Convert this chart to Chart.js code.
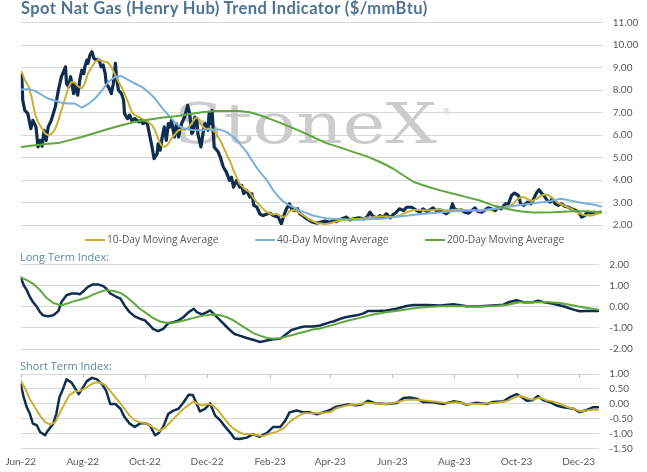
<!DOCTYPE html>
<html>
<head>
<meta charset="utf-8">
<script src="https://cdn.jsdelivr.net/npm/chart.js@4.4.1/dist/chart.umd.min.js"></script>
<style>
  html,body{margin:0;padding:0;background:#ffffff;}
  body{width:647px;height:472px;overflow:hidden;position:relative;font-family:Lato,"Open Sans",sans-serif;}
  canvas{position:absolute;left:0;}
  #c1{top:0;} #c2{top:244px;} #c3{top:358px;}
  #title{position:absolute;left:21px;top:-1px;font-weight:700;font-size:16.5px;letter-spacing:0.4px;line-height:19px;color:#4d7493;white-space:nowrap;}
  .sub{position:absolute;left:20px;font-family:"Open Sans",sans-serif;font-size:11px;line-height:13px;color:#5f87a8;white-space:nowrap;}
  .leg{position:absolute;top:233px;height:13px;font-family:"Open Sans",sans-serif;font-size:10.2px;line-height:13px;color:#595959;white-space:nowrap;}
  .sw{position:absolute;width:20px;height:0;border-top:2.5px solid;}
</style>
</head>
<body>
<canvas id="c1" width="647" height="241"></canvas>
<canvas id="c2" width="647" height="121"></canvas>
<canvas id="c3" width="647" height="114"></canvas>
<div id="title">Spot Nat Gas (Henry Hub) Trend Indicator ($/mmBtu)</div>
<div id="legend"></div>
<div class="sub" style="top:250px">Long Term Index:</div>
<div class="sub" style="top:359px">Short Term Index:</div>
<script>
// ---- x axis: days since 1 Jun 2022, ticks every two months ----
const TICK_DAYS   = [0, 61, 122, 183, 245, 304, 365, 426, 487, 548];
const TICK_LABELS = ['Jun-22','Aug-22','Oct-22','Dec-22','Feb-23','Apr-23','Jun-23','Aug-23','Oct-23','Dec-23'];

// ---- top panel: $/mmBtu, [day, value] ----
const SPOT = [[1,8.66],[2,7.55],[4,7.10],[7,6.95],[10,6.28],[12,6.65],[15,6.36],[17,5.47],[19,5.76],[21,5.50],[23,6.21],[25,5.76],[27,6.36],[30,6.65],[34,7.25],[37,7.99],[40,8.59],[44,9.03],[45,8.29],[47,8.14],[49,8.59],[52,7.84],[53,8.29],[56,7.77],[58,8.44],[60,8.88],[62,8.73],[63,9.03],[65,9.33],[66,9.18],[68,9.55],[70,9.70],[72,9.40],[75,9.33],[77,9.33],[79,9.03],[81,9.11],[83,8.73],[84,8.29],[87,8.07],[89,7.84],[91,8.29],[93,9.18],[94,8.59],[96,7.99],[99,7.84],[101,7.55],[102,6.95],[105,6.73],[107,6.88],[109,6.65],[112,6.73],[116,6.58],[118,6.65],[120,6.51],[124,6.58],[125,6.36],[127,5.91],[129,5.47],[131,4.95],[134,5.17],[135,5.61],[137,5.32],[139,5.91],[141,6.36],[143,5.76],[145,6.51],[147,6.36],[148,6.65],[151,5.91],[153,6.51],[155,5.91],[158,6.51],[161,6.80],[164,7.32],[166,6.95],[168,6.06],[170,6.21],[171,6.80],[173,6.65],[174,6.06],[177,5.47],[179,6.06],[181,6.51],[184,6.21],[185,6.95],[187,6.51],[188,7.10],[190,5.47],[194,5.24],[196,5.02],[199,4.58],[202,4.35],[205,3.98],[207,4.13],[209,3.68],[212,3.98],[215,3.68],[217,3.76],[219,3.39],[222,3.54],[225,3.24],[227,3.39],[229,2.87],[232,2.79],[235,2.49],[238,2.42],[242,2.49],[245,2.52],[248,2.42],[253,2.35],[256,2.05],[259,2.49],[261,2.72],[264,2.94],[266,2.72],[269,2.64],[272,2.72],[274,2.50],[278,2.38],[281,2.27],[284,2.20],[287,2.12],[291,2.08],[294,2.12],[299,2.17],[304,2.12],[307,2.20],[310,2.15],[315,2.27],[320,2.35],[323,2.23],[327,2.27],[332,2.32],[337,2.27],[340,2.35],[343,2.57],[346,2.38],[350,2.32],[353,2.42],[356,2.35],[359,2.50],[363,2.32],[366,2.47],[369,2.57],[372,2.72],[376,2.64],[379,2.79],[384,2.79],[389,2.64],[392,2.57],[395,2.72],[399,2.60],[402,2.67],[405,2.76],[408,2.64],[412,2.67],[415,2.57],[418,2.50],[422,2.64],[424,2.94],[426,2.72],[430,2.64],[433,2.67],[436,2.57],[440,2.53],[443,2.64],[446,2.76],[449,2.60],[453,2.57],[456,2.67],[459,2.76],[462,2.72],[466,2.64],[469,2.79],[472,2.72],[476,2.94],[479,2.94],[482,3.31],[485,3.42],[489,3.31],[491,2.94],[494,2.87],[498,3.02],[501,2.94],[503,3.09],[507,3.46],[509,3.57],[512,3.39],[514,3.31],[517,3.09],[520,3.02],[522,3.17],[525,2.94],[528,2.87],[531,2.94],[535,2.82],[538,2.79],[541,2.72],[544,2.67],[548,2.57],[551,2.35],[554,2.42],[556,2.57],[560,2.53],[563,2.57],[566,2.53],[569,2.57]];
const MA10 = [[1,8.81],[4,8.44],[8,8.14],[11,7.62],[14,6.95],[17,6.58],[21,6.28],[24,6.06],[27,5.99],[30,6.03],[34,6.28],[37,6.65],[40,7.10],[44,7.69],[47,8.14],[50,8.36],[53,8.32],[57,8.14],[60,8.07],[63,8.29],[66,8.73],[70,9.03],[73,9.25],[76,9.33],[80,9.30],[83,9.25],[86,9.21],[89,9.03],[93,8.66],[96,8.36],[99,8.14],[102,7.84],[106,7.40],[109,7.03],[112,6.88],[116,6.80],[119,6.73],[122,6.65],[125,6.58],[129,6.43],[132,6.21],[135,5.84],[138,5.54],[142,5.47],[145,5.61],[148,5.84],[152,6.06],[155,6.21],[158,6.24],[161,6.21],[165,6.36],[168,6.51],[171,6.73],[174,6.77],[178,6.43],[181,6.28],[186,6.28],[189,6.21],[192,6.06],[196,5.76],[199,5.47],[202,5.17],[206,4.80],[209,4.43],[212,4.13],[215,3.83],[219,3.65],[222,3.54],[225,3.46],[228,3.24],[232,3.01],[235,2.87],[238,2.72],[242,2.57],[245,2.50],[248,2.47],[251,2.50],[255,2.42],[258,2.35],[261,2.42],[264,2.62],[268,2.67],[271,2.62],[274,2.53],[278,2.42],[281,2.32],[284,2.23],[287,2.17],[291,2.08],[294,2.08],[297,2.05],[300,2.05],[304,2.08],[307,2.12],[314,2.20],[320,2.23],[327,2.27],[333,2.27],[340,2.32],[346,2.35],[353,2.38],[359,2.38],[366,2.35],[372,2.42],[379,2.57],[386,2.67],[392,2.67],[399,2.64],[405,2.67],[412,2.70],[418,2.64],[425,2.67],[431,2.70],[438,2.64],[445,2.64],[451,2.62],[458,2.67],[464,2.70],[471,2.76],[477,2.79],[484,2.94],[487,3.12],[490,3.21],[494,3.24],[497,3.17],[502,3.06],[507,3.17],[510,3.27],[513,3.34],[518,3.34],[521,3.24],[525,3.09],[528,2.97],[531,2.91],[536,2.82],[541,2.72],[546,2.57],[551,2.47],[556,2.42],[561,2.42],[566,2.50],[570,2.53]];
const MA40 = [[1,8.02],[8,8.04],[14,7.96],[21,7.77],[27,7.62],[34,7.52],[40,7.43],[47,7.40],[53,7.40],[60,7.22],[66,7.37],[73,7.62],[80,7.99],[86,8.36],[93,8.59],[99,8.62],[106,8.44],[112,8.29],[119,8.14],[125,7.92],[132,7.62],[138,7.25],[145,6.88],[152,6.54],[158,6.33],[165,6.24],[171,6.21],[178,6.21],[184,6.24],[196,6.24],[202,6.14],[209,5.91],[215,5.62],[222,5.24],[228,4.80],[235,4.35],[242,3.98],[248,3.54],[255,3.16],[261,2.94],[268,2.79],[274,2.64],[281,2.53],[287,2.42],[294,2.35],[300,2.30],[307,2.27],[314,2.27],[320,2.24],[327,2.23],[333,2.23],[340,2.26],[346,2.27],[353,2.27],[359,2.30],[366,2.35],[372,2.38],[389,2.47],[405,2.53],[422,2.60],[438,2.64],[454,2.67],[471,2.76],[487,2.87],[503,2.97],[520,3.06],[530,3.17],[536,3.12],[543,3.06],[553,2.97],[562,2.91],[570,2.82]];
const MA200 = [[1,5.47],[14,5.54],[27,5.61],[37,5.64],[47,5.76],[60,5.91],[73,6.09],[86,6.27],[99,6.43],[112,6.58],[125,6.68],[138,6.77],[152,6.83],[165,6.92],[178,7.01],[191,7.07],[202,7.07],[215,7.07],[225,7.01],[235,6.88],[248,6.66],[261,6.43],[274,6.18],[287,5.91],[300,5.64],[314,5.44],[327,5.24],[340,5.05],[353,4.80],[366,4.50],[376,4.20],[386,3.91],[399,3.71],[412,3.54],[425,3.39],[438,3.24],[451,3.09],[464,2.87],[477,2.72],[490,2.61],[503,2.56],[523,2.57],[543,2.61],[556,2.61],[570,2.57]];

// ---- long term index panel ----
const LONG_INDEX = [[0,1.38],[3,1.01],[6,0.78],[9,0.46],[12,0.22],[16,-0.02],[19,-0.26],[22,-0.41],[27,-0.46],[32,-0.41],[37,-0.21],[40,0.22],[45,0.54],[50,0.62],[55,0.62],[58,0.59],[61,0.70],[66,0.93],[71,1.05],[76,1.05],[81,0.97],[84,0.86],[88,0.62],[93,0.49],[98,0.38],[102,0.06],[107,-0.26],[112,-0.46],[117,-0.57],[122,-0.65],[127,-0.89],[130,-1.05],[135,-1.16],[140,-1.05],[145,-0.78],[150,-0.73],[155,-0.65],[160,-0.49],[165,-0.26],[170,-0.10],[173,-0.26],[178,-0.37],[183,-0.26],[186,-0.18],[191,-0.41],[196,-0.65],[201,-0.89],[206,-1.13],[210,-1.29],[215,-1.37],[222,-1.48],[228,-1.56],[235,-1.67],[242,-1.60],[248,-1.54],[255,-1.51],[261,-1.29],[266,-1.10],[273,-1.00],[279,-0.94],[287,-0.94],[294,-0.89],[304,-0.73],[307,-0.70],[314,-0.57],[320,-0.49],[330,-0.41],[336,-0.33],[341,-0.21],[350,-0.21],[359,-0.18],[369,-0.10],[379,0.03],[386,0.08],[399,0.08],[412,0.06],[425,0.11],[438,0.02],[451,0.02],[464,0.06],[474,0.09],[480,0.22],[487,0.30],[494,0.21],[503,0.21],[508,0.28],[513,0.22],[523,0.14],[533,0.02],[543,-0.14],[549,-0.22],[556,-0.21],[567,-0.21]];
const LONG_SIGNAL = [[0,1.38],[6,1.25],[12,1.09],[19,0.78],[25,0.43],[32,0.17],[40,0.06],[45,0.14],[52,0.25],[58,0.33],[65,0.43],[71,0.57],[78,0.70],[84,0.78],[91,0.74],[98,0.65],[104,0.46],[111,0.17],[117,-0.10],[124,-0.33],[130,-0.54],[137,-0.70],[143,-0.76],[150,-0.76],[156,-0.70],[163,-0.62],[170,-0.53],[176,-0.46],[183,-0.40],[189,-0.37],[196,-0.41],[202,-0.49],[209,-0.65],[215,-0.84],[222,-1.05],[228,-1.24],[235,-1.37],[242,-1.48],[248,-1.51],[255,-1.49],[261,-1.41],[268,-1.33],[274,-1.24],[281,-1.16],[287,-1.08],[294,-1.03],[307,-0.86],[320,-0.68],[333,-0.53],[346,-0.37],[359,-0.26],[372,-0.18],[386,-0.08],[399,-0.02],[412,0.02],[425,0.03],[438,0.02],[451,0.02],[464,0.03],[477,0.08],[490,0.21],[503,0.21],[516,0.22],[530,0.17],[543,0.05],[556,-0.06],[567,-0.13]];

// ---- short term index panel ----
const SHORT_INDEX = [[0,0.65],[3,0.21],[6,-0.12],[9,-0.34],[12,-0.67],[16,-0.73],[19,-0.95],[24,-1.06],[27,-0.89],[32,-0.67],[35,-0.34],[38,0.21],[42,0.54],[45,0.82],[50,0.71],[53,0.54],[57,0.32],[61,0.54],[65,0.76],[70,0.87],[75,0.82],[80,0.65],[84,0.43],[88,-0.01],[93,-0.01],[98,-0.17],[102,-0.45],[107,-0.67],[112,-0.78],[117,-0.67],[122,-0.65],[127,-0.73],[132,-1.06],[135,-1.00],[140,-0.78],[145,-0.34],[150,-0.23],[155,-0.17],[160,0.05],[165,0.30],[169,0.29],[173,-0.01],[176,-0.26],[181,-0.17],[186,0.01],[191,-0.40],[196,-0.56],[201,-0.78],[206,-0.98],[210,-1.17],[215,-1.19],[222,-1.14],[228,-1.03],[235,-1.11],[242,-0.98],[248,-0.78],[255,-0.78],[260,-0.56],[264,-0.29],[271,-0.23],[278,-0.29],[284,-0.29],[291,-0.36],[297,-0.29],[304,-0.21],[310,-0.10],[320,-0.03],[330,-0.05],[336,-0.01],[341,0.10],[348,0.02],[359,-0.01],[369,0.02],[376,0.19],[382,0.21],[389,0.17],[395,0.06],[405,0.05],[415,-0.01],[425,0.08],[431,0.05],[438,-0.03],[448,0.03],[458,-0.01],[464,0.06],[474,0.08],[480,0.21],[487,0.32],[492,0.23],[497,0.10],[503,0.12],[508,0.26],[513,0.12],[520,0.05],[526,-0.06],[533,-0.12],[543,-0.17],[549,-0.28],[556,-0.21],[562,-0.12],[567,-0.12]];
const SHORT_SIGNAL = [[0,0.78],[4,0.54],[9,0.15],[14,-0.12],[19,-0.40],[24,-0.62],[29,-0.70],[34,-0.62],[38,-0.34],[43,-0.01],[48,0.30],[53,0.41],[58,0.43],[63,0.51],[68,0.63],[73,0.71],[78,0.71],[83,0.63],[88,0.43],[93,0.21],[98,0.01],[102,-0.17],[107,-0.40],[112,-0.56],[117,-0.62],[122,-0.65],[127,-0.73],[132,-0.84],[136,-0.92],[140,-0.84],[145,-0.69],[150,-0.51],[155,-0.34],[160,-0.17],[165,-0.04],[170,0.08],[174,-0.01],[179,-0.06],[184,-0.01],[189,-0.06],[194,-0.23],[199,-0.45],[204,-0.67],[209,-0.84],[214,-0.95],[219,-1.02],[225,-1.02],[232,-1.06],[238,-1.09],[245,-1.00],[251,-0.95],[258,-0.84],[264,-0.62],[271,-0.45],[278,-0.32],[284,-0.32],[294,-0.32],[304,-0.28],[310,-0.15],[320,-0.06],[330,-0.03],[340,0.03],[350,0.01],[359,-0.01],[369,0.05],[379,0.13],[389,0.13],[399,0.10],[408,0.07],[418,0.02],[428,0.05],[438,-0.01],[448,-0.01],[458,0.01],[467,0.03],[477,0.08],[484,0.19],[490,0.27],[497,0.19],[503,0.13],[510,0.21],[516,0.12],[523,0.07],[530,-0.01],[536,-0.10],[543,-0.17],[549,-0.25],[556,-0.23],[562,-0.20],[567,-0.20]];

const LEGEND_LABELS = ['10-Day Moving Average','40-Day Moving Average','200-Day Moving Average'];

// ---- styling ----
const NAVY = '#0f2e4f', GOLD = '#c8b132', BLUE = '#7aafdc', GREEN = '#5ea83e';
const GRID = '#d9d9d9', LABEL = '#595959';
const FONT = {family: 'Lato, "Open Sans", sans-serif', size: 10};

const pts = arr => arr.map(([x, y]) => ({x, y}));
const line = (label, arr, color, width, order) => ({label, data: pts(arr), borderColor: color, backgroundColor: color, borderWidth: width, order, fill: false});

function yAxis(min, max, step, width) {
  return {
    position: 'right', min, max,
    ticks: {stepSize: step, autoSkip: false, padding: 10, color: LABEL, font: FONT, crossAlign: 'near', callback: v => Number(v).toFixed(2)},
    grid: {color: GRID, lineWidth: 1, drawTicks: false},
    border: {display: false},
    afterFit: s => { s.width = width; }
  };
}
function baseOptions(padding, x, y) {
  return {
    responsive: false, animation: false,
    layout: {padding},
    elements: {point: {radius: 0, hoverRadius: 0}, line: {tension: 0, borderJoinStyle: 'round', borderCapStyle: 'round'}},
    plugins: {legend: {display: false}, tooltip: {enabled: false}, title: {display: false}},
    events: [],
    scales: {x, y}
  };
}

const watermark = {
  id: 'watermark',
  beforeDatasetsDraw(chart) {
    const ctx = chart.ctx;
    ctx.save();
    ctx.fillStyle = '#cccccc';
    ctx.font = '56px "DejaVu Serif", serif';
    ctx.textBaseline = 'alphabetic';
    const w = ctx.measureText('StoneX').width;
    const target = 263;
    ctx.translate(174, 143);
    ctx.scale(target / w, 1);
    ctx.fillText('StoneX', 0, 0);
    ctx.restore();
    ctx.save();
    ctx.fillStyle = '#cccccc';
    ctx.font = '9px "DejaVu Sans", sans-serif';
    ctx.fillText('®', 442, 115);
    ctx.restore();
  }
};

const topTicks = {
  id: 'topTicks',
  beforeDatasetsDraw(chart) {
    const {ctx, chartArea, scales: {x}} = chart;
    ctx.save();
    ctx.strokeStyle = '#bfbfbf';
    ctx.lineWidth = 1;
    x.ticks.forEach(t => {
      const px = Math.round(x.getPixelForValue(t.value)) + 0.5;
      ctx.beginPath();
      ctx.moveTo(px, chartArea.top);
      ctx.lineTo(px, chartArea.top + 4);
      ctx.stroke();
    });
    ctx.restore();
  }
};

// ---- top chart ----
new Chart(document.getElementById('c1'), {
  type: 'line',
  data: {datasets: [
    line('Spot', SPOT, NAVY, 3.2, 4),
    line(LEGEND_LABELS[0], MA10, GOLD, 2, 3),
    line(LEGEND_LABELS[1], MA40, BLUE, 2, 2),
    line(LEGEND_LABELS[2], MA200, GREEN, 2, 1)
  ]},
  options: baseOptions({left: 20.7, top: 22.5, bottom: 7.5, right: 0},
    {type: 'linear', min: 0, max: 571.6, display: false},
    yAxis(2, 11, 1, 44.3)),
  plugins: [watermark]
});

// ---- long term index ----
new Chart(document.getElementById('c2'), {
  type: 'line',
  data: {datasets: [
    line('Long Term Index', LONG_INDEX, NAVY, 2.5, 2),
    line('Long Term Signal', LONG_SIGNAL, GREEN, 2, 1)
  ]},
  options: baseOptions({left: 20.7, top: 20.3, bottom: 7.7, right: 0},
    {type: 'linear', min: 0, max: 568.3, display: false},
    yAxis(-2, 2, 1, 47.7))
});

// ---- short term index ----
new Chart(document.getElementById('c3'), {
  type: 'line',
  data: {datasets: [
    line('Short Term Index', SHORT_INDEX, NAVY, 2.5, 2),
    line('Short Term Signal', SHORT_SIGNAL, GOLD, 2, 1)
  ]},
  options: baseOptions({left: 20.7, top: 13.1, bottom: 0, right: 0},
    {type: 'linear', min: 0, max: 568.3, position: 'bottom',
     afterBuildTicks: s => { s.ticks = TICK_DAYS.map(v => ({value: v})); },
     afterFit: s => { s.height = 23.7; },
     ticks: {autoSkip: false, maxRotation: 0, padding: -1, color: LABEL, font: FONT,
             callback: (v, i) => TICK_LABELS[i]},
     grid: {display: false}, border: {display: false}},
    yAxis(-1.5, 1, 0.5, 47.7)),
  plugins: [topTicks]
});

// ---- legend (HTML) ----
const legendColors = [GOLD, BLUE, GREEN];
const legendLeft = [85, 255, 425];
const legendEl = document.getElementById('legend');
LEGEND_LABELS.forEach((t, i) => {
  const sw = document.createElement('div');
  sw.className = 'sw';
  sw.style.left = legendLeft[i] + 'px';
  sw.style.top = '238.5px';
  sw.style.borderTopColor = legendColors[i];
  legendEl.appendChild(sw);
  const tx = document.createElement('div');
  tx.className = 'leg';
  tx.style.left = (legendLeft[i] + 22) + 'px';
  tx.textContent = t;
  legendEl.appendChild(tx);
});
</script>
</body>
</html>
